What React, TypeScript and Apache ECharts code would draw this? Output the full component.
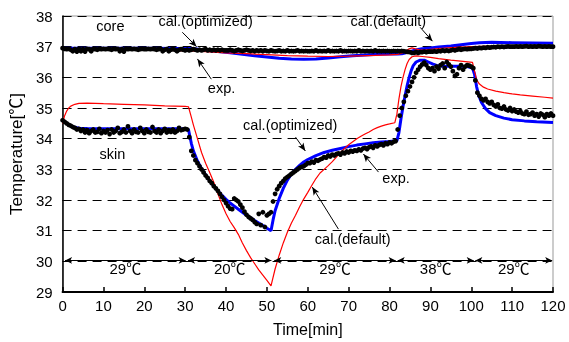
import React, { useEffect, useRef } from "react";
import * as echarts from "echarts";

// sampling step of the measured (exp.) data, minutes
const EXP_STEP = 0.5;

// measured skin temperature, t = 0, 0.5, ... 120 min
const skinExp: number[] = [
  34.6,
  34.55, 34.5, 34.45, 34.42, 34.38, 34.35, 34.3, 34.32, 34.25, 34.3, 34.2, 34.28, 34.18, 34.25, 34.3, 34.2, 34.22, 34.32, 34.18, 34.25,
  34.2, 34.28, 34.15, 34.3, 34.2, 34.25, 34.35, 34.18, 34.22, 34.3, 34.2, 34.4, 34.25, 34.18, 34.3, 34.22, 34.2, 34.35, 34.25, 34.18,
  34.3, 34.22, 34.2, 34.38, 34.25, 34.2, 34.3, 34.18, 34.25, 34.32, 34.2, 34.28, 34.22, 34.3, 34.2, 34.25, 34.35, 34.28, 34.3, 34.32,
  34.3, 34.05, 33.6, 33.45, 33.3, 33.2, 33.1, 33.0, 32.9, 32.8, 32.72, 32.62, 32.55, 32.45, 32.38, 32.3, 32.2, 32.1, 32.0, 31.9,
  31.8, 31.72, 31.7, 32.05, 32.0, 31.95, 31.85, 31.75, 31.62, 31.52, 31.45, 31.4, 31.35, 31.28, 31.22, 31.55, 31.18, 31.6, 31.12, 31.5,
  31.55, 31.6, 31.95, 32.2, 32.35, 32.45, 32.55, 32.62, 32.7, 32.75, 32.8, 32.85, 32.9, 32.95, 33.0, 33.05, 33.08, 33.1, 33.15, 33.2,
  33.2, 33.25, 33.22, 33.3, 33.28, 33.32, 33.35, 33.4, 33.38, 33.45, 33.42, 33.48, 33.45, 33.5, 33.52, 33.48, 33.55, 33.52, 33.58, 33.55,
  33.6, 33.58, 33.62, 33.6, 33.65, 33.62, 33.68, 33.7, 33.66, 33.72, 33.75, 33.7, 33.78, 33.75, 33.8, 33.82, 33.78, 33.85, 33.82, 33.88,
  33.85, 33.9, 33.92, 34.3, 34.75, 35.0, 35.2, 35.4, 35.55, 35.7, 35.85, 36.0, 36.15, 36.25, 36.35, 36.42, 36.48, 36.4, 36.3, 36.25,
  36.3, 36.2, 36.35, 36.28, 36.4, 36.45, 36.3, 36.5, 36.42, 36.35, 36.2, 36.05, 36.1, 36.3, 36.4, 36.25, 36.35, 36.4, 36.38, 36.35,
  36.3, 35.9, 35.5, 35.4, 35.3, 35.25, 35.3, 35.2, 35.15, 35.2, 35.1, 35.05, 35.12, 35.0, 34.98, 35.05, 34.95, 34.92, 35.0, 34.9,
  34.95, 34.88, 34.85, 34.9, 34.82, 34.8, 34.88, 34.78, 34.8, 34.85, 34.75, 34.8, 34.72, 34.82, 34.78, 34.7, 34.8, 34.75, 34.82, 34.75,
];

// measured core temperature, t = 0, 0.5, ... 120 min
const coreExp: number[] = [
  36.95,
  36.93, 36.92, 36.93, 36.9, 36.85, 36.92, 36.84, 36.93, 36.85, 36.92, 36.84, 36.93, 36.92, 36.85, 36.93, 36.92, 36.9, 36.93, 36.92, 36.93,
  36.92, 36.93, 36.92, 36.9, 36.93, 36.92, 36.93, 36.85, 36.92, 36.84, 36.93, 36.92, 36.93, 36.92, 36.93, 36.92, 36.9, 36.92, 36.93, 36.92,
  36.92, 36.93, 36.92, 36.93, 36.92, 36.9, 36.92, 36.93, 36.85, 36.9, 36.92, 36.85, 36.9, 36.92, 36.9, 36.85, 36.9, 36.92, 36.9, 36.88,
  36.9, 36.88, 36.9, 36.92, 36.9, 36.88, 36.9, 36.88, 36.9, 36.92, 36.88, 36.9, 36.88, 36.9, 36.88, 36.9, 36.88, 36.9, 36.88, 36.88,
  36.88, 36.9, 36.88, 36.85, 36.88, 36.9, 36.88, 36.86, 36.88, 36.9, 36.88, 36.86, 36.88, 36.85, 36.88, 36.86, 36.88, 36.85, 36.88, 36.86,
  36.85, 36.88, 36.86, 36.85, 36.86, 36.88, 36.85, 36.86, 36.85, 36.88, 36.85, 36.86, 36.85, 36.86, 36.88, 36.85, 36.86, 36.85, 36.86, 36.85,
  36.85, 36.86, 36.85, 36.88, 36.85, 36.86, 36.85, 36.86, 36.85, 36.88, 36.85, 36.86, 36.85, 36.86, 36.85, 36.88, 36.85, 36.86, 36.85, 36.86,
  36.86, 36.85, 36.86, 36.85, 36.88, 36.85, 36.86, 36.85, 36.86, 36.85, 36.86, 36.85, 36.88, 36.85, 36.86, 36.85, 36.86, 36.85, 36.86, 36.85,
  36.85, 36.86, 36.85, 36.86, 36.85, 36.86, 36.85, 36.84, 36.83, 36.82, 36.8, 36.8, 36.82, 36.8, 36.82, 36.82, 36.84, 36.82, 36.84, 36.84,
  36.84, 36.85, 36.84, 36.86, 36.85, 36.88, 36.86, 36.88, 36.86, 36.88, 36.9, 36.88, 36.9, 36.92, 36.9, 36.92, 36.93, 36.92, 36.93, 36.93,
  36.94, 36.95, 36.94, 36.96, 36.95, 36.97, 36.96, 36.98, 36.97, 36.98, 36.99, 36.98, 37.0, 36.99, 37.0, 36.99, 37.0, 37.01, 37.0, 37.0,
  37.0, 37.01, 37.0, 37.01, 37.0, 37.01, 37.02, 37.0, 37.01, 37.0, 37.01, 37.0, 37.02, 37.01, 37.0, 37.01, 37.0, 37.01, 37.0, 37.0,
];

// calculated, optimized parameters (blue): [time, temperature]
const calOptSkin: [number, number][] = [
  [0, 34.6], [1, 34.5], [2, 34.42], [3, 34.37], [4, 34.34], [6, 34.33], [10, 34.32], [20, 34.32], [30, 34.32],
  [30.8, 34.3], [31.5, 33.85], [32, 33.6], [33, 33.27], [34, 33.02], [35, 32.82], [36, 32.63], [37, 32.45],
  [38, 32.3], [39, 32.15], [40, 32.02], [41, 31.9], [42, 31.8], [43, 31.7], [44, 31.6], [45, 31.5], [46, 31.42],
  [47, 31.33], [48, 31.25], [49, 31.17], [50, 31.08], [51, 31.0], [51.5, 31.35], [52, 31.65], [53, 32.05],
  [54, 32.38], [55, 32.65], [56, 32.85], [57, 33.0], [58, 33.13], [59, 33.24], [60, 33.32], [62, 33.45],
  [64, 33.55], [66, 33.62], [68, 33.68], [70, 33.74], [72, 33.79], [74, 33.83], [76, 33.87], [78, 33.89],
  [80, 33.91], [81.8, 33.93], [82.3, 34.2], [82.8, 34.65], [83.3, 35.05], [83.8, 35.4], [84.3, 35.72],
  [84.8, 36.0], [85.3, 36.22], [85.8, 36.38], [86.5, 36.5], [87.5, 36.56], [88.5, 36.56], [89.5, 36.5],
  [90.5, 36.44], [91.5, 36.39], [93, 36.36], [95, 36.36], [97, 36.36], [99, 36.35], [100.3, 36.3],
  [100.8, 36.1], [101.3, 35.7], [101.8, 35.42], [102.5, 35.18], [103.5, 34.98], [104.5, 34.85], [106, 34.75],
  [108, 34.67], [110, 34.62], [113, 34.58], [116, 34.55], [120, 34.53],
];

const calOptCore: [number, number][] = [
  [0, 36.95], [10, 36.95], [20, 36.95], [30, 36.94], [31, 36.94], [33, 36.92], [35, 36.88], [38, 36.84],
  [41, 36.8], [44, 36.75], [47, 36.7], [50, 36.66], [53, 36.62], [56, 36.6], [59, 36.59], [62, 36.6],
  [65, 36.63], [68, 36.67], [71, 36.7], [74, 36.73], [77, 36.75], [80, 36.76], [82, 36.76], [83, 36.77],
  [84, 36.8], [85, 36.84], [86, 36.88], [88, 36.93], [90, 36.96], [92, 36.99], [95, 37.02], [98, 37.07],
  [100, 37.1], [102, 37.13], [105, 37.14], [110, 37.13], [115, 37.12], [120, 37.11],
];

// calculated, default parameters (red): [time, temperature]
const calDefSkin: [number, number][] = [
  [0, 34.5], [0.5, 34.75], [1, 34.9], [1.5, 35.0], [2, 35.06], [3, 35.12], [4, 35.15], [6, 35.16], [10, 35.14],
  [15, 35.12], [20, 35.1], [25, 35.07], [30, 35.05], [30.8, 35.04], [31.5, 34.7], [32, 34.45], [33, 34.0],
  [34, 33.55], [35, 33.2], [36, 32.9], [37, 32.58], [38, 32.2], [39, 31.85], [40, 31.55], [41, 31.3],
  [42, 31.1], [43, 30.88], [44, 30.6], [45, 30.35], [46, 30.12], [47, 29.92], [48, 29.72], [49, 29.55],
  [50, 29.38], [51, 29.2], [52, 29.75], [53, 30.2], [54, 30.6], [55, 30.95], [56, 31.25], [57, 31.5],
  [58, 31.78], [59, 32.03], [60, 32.25], [61, 32.48], [62, 32.7], [63, 32.88], [64, 33.0], [65, 33.12],
  [66, 33.25], [67, 33.4], [68, 33.55], [69, 33.68], [70, 33.8], [71, 33.9], [72, 34.0], [73, 34.08],
  [74, 34.15], [75, 34.22], [76, 34.3], [77, 34.36], [78, 34.41], [79, 34.45], [80, 34.48], [81.3, 34.52],
  [81.8, 34.8], [82.3, 35.3], [82.8, 35.7], [83.3, 36.0], [83.8, 36.25], [84.3, 36.45], [84.8, 36.58],
  [85.5, 36.67], [86.5, 36.7], [88, 36.68], [90, 36.65], [92, 36.61], [95, 36.56], [98, 36.52],
  [100.3, 36.49], [100.8, 36.2], [101.3, 35.92], [102, 35.78], [103, 35.68], [104, 35.62], [106, 35.55],
  [108, 35.5], [110, 35.46], [112, 35.43], [115, 35.39], [118, 35.35], [120, 35.32],
];

const calDefCore: [number, number][] = [
  [0, 36.92], [10, 36.91], [20, 36.9], [26, 36.88], [30, 36.86], [33, 36.85], [36, 36.83], [40, 36.8],
  [45, 36.77], [50, 36.74], [55, 36.71], [60, 36.69], [65, 36.68], [70, 36.69], [75, 36.71], [80, 36.73],
  [82, 36.75], [83, 36.79], [84, 36.86], [84.8, 36.93], [85.5, 36.96], [86.3, 36.93], [87.5, 36.89],
  [89, 36.9], [92, 36.94], [95, 36.97], [100, 37.0], [105, 37.02], [110, 37.02], [115, 37.0], [120, 36.98],
];

// ambient temperature phases: [start, end] minutes and labels
const phaseRanges: [number, number][] = [[0.6, 30.1], [30.7, 51.1], [51.8, 81.5], [82.0, 100.6], [101.0, 119.8]];
const phaseLabels = ["29℃", "20℃", "29℃", "38℃", "29℃"];

// annotation texts
const noteTexts = ["core", "cal.(optimized)", "exp.", "cal.(default)", "skin", "cal.(optimized)", "exp.", "cal.(default)"];

// layout of annotations in data coordinates (positions, not values)
const notePos: [number, number][] = [
  [11.7, 37.66], [35.0, 37.83], [38.9, 35.64], [79.7, 37.83],
  [12.2, 33.5], [55.7, 34.44], [81.6, 32.72], [71.0, 30.73],
];
const noteArrows: [[number, number], [number, number]][] = [
  [[29.3, 37.47], [32.8, 37.0]],
  [[36.4, 35.94], [33.0, 36.6]],
  [[87.5, 37.63], [90.5, 37.18]],
  [[57.0, 34.05], [59.4, 33.6]],
  [[77.3, 32.91], [73.6, 33.5]],
  [[67.5, 31.05], [61.1, 32.42]],
];
const PHASE_ROW_Y = 30.03;
const PHASE_LABEL_Y = 29.77;

const FONT = '"Liberation Sans", Arial, "Noto Sans CJK JP", sans-serif';

export default function App() {
  const ref = useRef<HTMLDivElement>(null);
  useEffect(() => {
    if (!ref.current) return;
    const chart = echarts.init(ref.current, null, { renderer: "svg" });
    const expTime = (i: number) => i * EXP_STEP;

    const arrowLines: any[] = noteArrows.map(([a, b]) => [
      { coord: a, symbol: "none" },
      { coord: b, symbol: "arrow", symbolSize: [5, 8] },
    ]);
    phaseRanges.forEach(([s, e]) => {
      arrowLines.push([
        { coord: [s, PHASE_ROW_Y], symbol: "arrow", symbolSize: [5, 7] },
        { coord: [e, PHASE_ROW_Y], symbol: "arrow", symbolSize: [5, 7] },
      ]);
    });

    chart.setOption({
      animation: false,
      grid: { left: 62, right: 16, top: 16, bottom: 49, show: true, borderColor: "#999", borderWidth: 1 },
      xAxis: {
        type: "value",
        min: 0,
        max: 120,
        interval: 10,
        name: "Time[min]",
        nameLocation: "middle",
        nameGap: 29,
        nameTextStyle: { color: "#000", fontSize: 16, fontFamily: FONT },
        axisLine: { show: true, lineStyle: { color: "#000", width: 2 } },
        axisTick: { show: true, inside: true, length: 5, lineStyle: { color: "#000", width: 1.5 } },
        axisLabel: { color: "#000", fontSize: 15, fontFamily: FONT, margin: 6 },
        splitLine: { show: false },
      },
      yAxis: {
        type: "value",
        min: 29,
        max: 38,
        interval: 1,
        name: "Temperature[℃]",
        nameLocation: "middle",
        nameGap: 32,
        nameTextStyle: { color: "#000", fontSize: 17, fontFamily: FONT },
        axisLine: { show: true, lineStyle: { color: "#000", width: 1.5 } },
        axisTick: { show: true, inside: true, length: 4, lineStyle: { color: "#000" } },
        axisLabel: { color: "#000", fontSize: 15, fontFamily: FONT, margin: 10 },
        splitLine: { show: true, lineStyle: { color: "#000", width: 1, type: [9, 6] } },
      },
      series: [
        {
          name: "cal.(optimized) skin",
          type: "line",
          data: calOptSkin,
          showSymbol: false,
          lineStyle: { color: "#0000ff", width: 3 },
          silent: true,
          z: 2,
        },
        {
          name: "cal.(optimized) core",
          type: "line",
          data: calOptCore,
          showSymbol: false,
          lineStyle: { color: "#0000ff", width: 3 },
          silent: true,
          z: 2,
        },
        {
          name: "cal.(default) skin",
          type: "line",
          data: calDefSkin,
          showSymbol: false,
          lineStyle: { color: "#ff0000", width: 1.2 },
          silent: true,
          z: 3,
        },
        {
          name: "cal.(default) core",
          type: "line",
          data: calDefCore,
          showSymbol: false,
          lineStyle: { color: "#ff0000", width: 1.2 },
          silent: true,
          z: 3,
        },
        {
          name: "exp. skin",
          type: "scatter",
          data: skinExp.map((v, i) => [expTime(i), v]),
          symbol: "circle",
          symbolSize: 4.8,
          itemStyle: { color: "#000", opacity: 1 },
          silent: true,
          z: 4,
        },
        {
          name: "exp. core",
          type: "scatter",
          data: coreExp.map((v, i) => [expTime(i), v]),
          symbol: "circle",
          symbolSize: 4.8,
          itemStyle: { color: "#000", opacity: 1 },
          silent: true,
          z: 4,
        },
        {
          name: "annotations",
          type: "line",
          data: [],
          silent: true,
          z: 5,
          markLine: {
            silent: true,
            animation: false,
            symbol: ["none", "arrow"],
            label: { show: false },
            emphasis: { disabled: true },
            lineStyle: { color: "#000", width: 1, type: "solid" },
            data: arrowLines,
          },
        },
      ],
    });

    const textEls: any[] = [];
    noteTexts.forEach((t, i) => {
      const [x, y] = chart.convertToPixel({ gridIndex: 0 }, notePos[i]) as number[];
      textEls.push({
        type: "text",
        x,
        y,
        silent: true,
        z: 10,
        style: { text: t, fill: "#000", font: `14.5px ${FONT}`, align: "center", verticalAlign: "middle", textAlign: "center", textVerticalAlign: "middle" },
      });
    });
    phaseRanges.forEach(([s, e], i) => {
      const [x, y] = chart.convertToPixel({ gridIndex: 0 }, [(s + e) / 2, PHASE_LABEL_Y]) as number[];
      textEls.push({
        type: "text",
        x,
        y,
        silent: true,
        z: 10,
        style: { text: phaseLabels[i], fill: "#000", font: `15px ${FONT}`, align: "center", verticalAlign: "middle", textAlign: "center", textVerticalAlign: "middle" },
      });
    });
    chart.setOption({ graphic: textEls });

    return () => chart.dispose();
  }, []);
  return <div ref={ref} style={{ position: "fixed", left: 0, top: 0, width: 569, height: 342 }} />;
}
